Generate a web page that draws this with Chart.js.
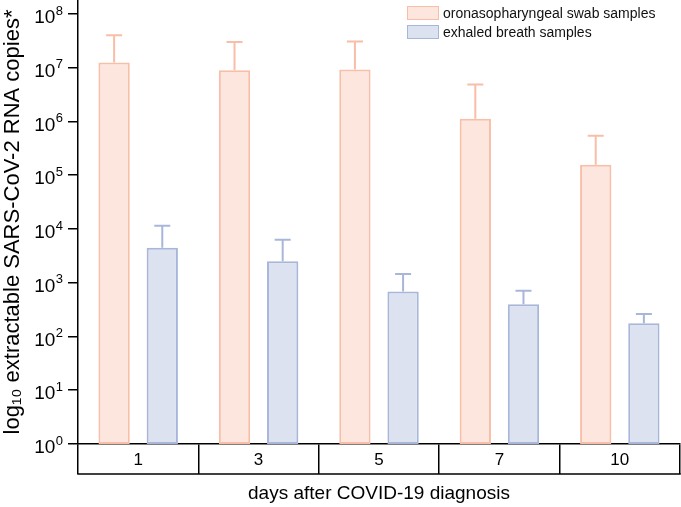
<!DOCTYPE html>
<html>
<head>
<meta charset="utf-8">
<script src="https://cdn.jsdelivr.net/npm/chart.js@4.4.1/dist/chart.umd.min.js"></script>
<style>
  body { margin: 0; background: #fff; }
  #wrap { position: relative; width: 681px; height: 507px; }
  #legend { position: absolute; left: 407px; top: 4px; font: 14px "Liberation Sans", Arial, sans-serif; color: #111; }
  #legend div { display: flex; align-items: center; height: 18.5px; }
  #legend span.box { display: inline-block; width: 30px; height: 12px; margin-right: 4px; border: 1.5px solid; }
</style>
</head>
<body>
<div id="wrap">
<canvas id="first" width="681" height="507"></canvas>
<div id="legend"></div>
</div>
<script>
const days = ["1", "3", "5", "7", "10"];
const swabValues = [1.25e7, 9.0e6, 9.25e6, 1.13e6, 1.56e5];
const swabErrTop = [4.0e7, 3.0e7, 3.08e7, 4.86e6, 5.4e5];
const breathValues = [4.5e3, 2.5e3, 685, 400, 176];
const breathErrTop = [1.15e4, 6.3e3, 1.45e3, 706, 263];
const yTicks = [1, 10, 100, 1e3, 1e4, 1e5, 1e6, 1e7, 1e8];

const swabColor = "#f8bea8", swabFill = "#fde6dd";
const breathColor = "#a8b6da", breathFill = "#dce2f0";

// error bars, power-of-ten labels, bottom line of category boxes
const extras = {
  id: "extras",
  afterDatasetsDraw(chart) {
    const ctx = chart.ctx;
    const y = chart.scales.y;
    const errs = [swabErrTop, breathErrTop];
    chart.data.datasets.forEach((ds, d) => {
      chart.getDatasetMeta(d).data.forEach((bar, i) => {
        const yt = y.getPixelForValue(errs[d][i]);
        ctx.save();
        ctx.strokeStyle = ds.borderColor;
        ctx.lineWidth = 2;
        ctx.beginPath();
        ctx.moveTo(bar.x, bar.y);
        ctx.lineTo(bar.x, yt);
        ctx.moveTo(bar.x - 8, yt);
        ctx.lineTo(bar.x + 8, yt);
        ctx.stroke();
        ctx.restore();
      });
    });
  },
  afterDraw(chart) {
    const ctx = chart.ctx, a = chart.chartArea, y = chart.scales.y;
    ctx.save();
    ctx.strokeStyle = "#000";
    ctx.lineWidth = 1.5;
    ctx.beginPath();
    ctx.moveTo(a.left - 0.75, a.bottom + 30);
    ctx.lineTo(a.right + 0.75, a.bottom + 30);
    ctx.stroke();

    ctx.fillStyle = "#000";
    ctx.textBaseline = "middle";
    ctx.textAlign = "left";
    yTicks.forEach(v => {
      const py = y.getPixelForValue(v);
      const ex = String(Math.round(Math.log10(v)));
      ctx.font = "13px 'Liberation Sans'";
      const ew = ctx.measureText(ex).width;
      ctx.fillText(ex, 63 - ew, py - 3);
      ctx.font = "19px 'Liberation Sans'";
      const bw = ctx.measureText("10").width;
      ctx.fillText("10", 63 - ew - bw - 0.5, py + 4);
    });
    ctx.restore();
  }
};

let chart = new Chart("first", {
  type: "bar",
  data: {
    labels: days,
    datasets: [{
      label: "oronasopharyngeal swab samples",
      data: swabValues,
      backgroundColor: swabFill,
      borderColor: swabColor,
      borderWidth: 2,
      borderSkipped: false
    }, {
      label: "exhaled breath samples",
      data: breathValues,
      backgroundColor: breathFill,
      borderColor: breathColor,
      borderWidth: 2,
      borderSkipped: false
    }]
  },
  options: {
    responsive: false,
    animation: false,
    categoryPercentage: 0.8,
    barPercentage: 0.65,
    layout: { padding: { top: 0, right: 1, left: 0, bottom: 0 } },
    plugins: {
      legend: { display: false },
      tooltip: { enabled: false }
    },
    scales: {
      y: {
        type: "logarithmic",
        min: 1,
        max: 1.82e8,
        afterBuildTicks: s => { s.ticks = yTicks.map(v => ({ value: v })); },
        afterFit: s => { s.width = 78; },
        border: { color: "#000", width: 1.5 },
        grid: { display: true, drawOnChartArea: false, tickLength: 10, color: "#000", lineWidth: 1.5 },
        ticks: { display: false },
        title: {
          display: true,
          text: "log₁₀ extractable SARS-CoV-2 RNA copies*",
          color: "#000",
          font: { family: "Liberation Sans", size: 22 },
          padding: { top: 0, bottom: 0 }
        }
      },
      x: {
        afterFit: s => { s.height = 63; },
        border: { color: "#000", width: 1.5 },
        grid: { offset: true, drawOnChartArea: false, tickLength: 30, color: "#000", lineWidth: 1.5 },
        ticks: {
          color: "#000",
          padding: -24,
          font: { family: "Liberation Sans", size: 17 }
        },
        title: {
          display: true,
          text: "days after COVID-19 diagnosis",
          color: "#000",
          font: { family: "Liberation Sans", size: 19 },
          padding: { top: 0, bottom: 2 }
        }
      }
    }
  },
  plugins: [extras]
});

// legend built from datasets
const leg = document.getElementById("legend");
chart.data.datasets.forEach(ds => {
  const row = document.createElement("div");
  const box = document.createElement("span");
  box.className = "box";
  box.style.background = ds.backgroundColor;
  box.style.borderColor = ds.borderColor;
  row.appendChild(box);
  row.appendChild(document.createTextNode(ds.label));
  leg.appendChild(row);
});
</script>
</body>
</html>
